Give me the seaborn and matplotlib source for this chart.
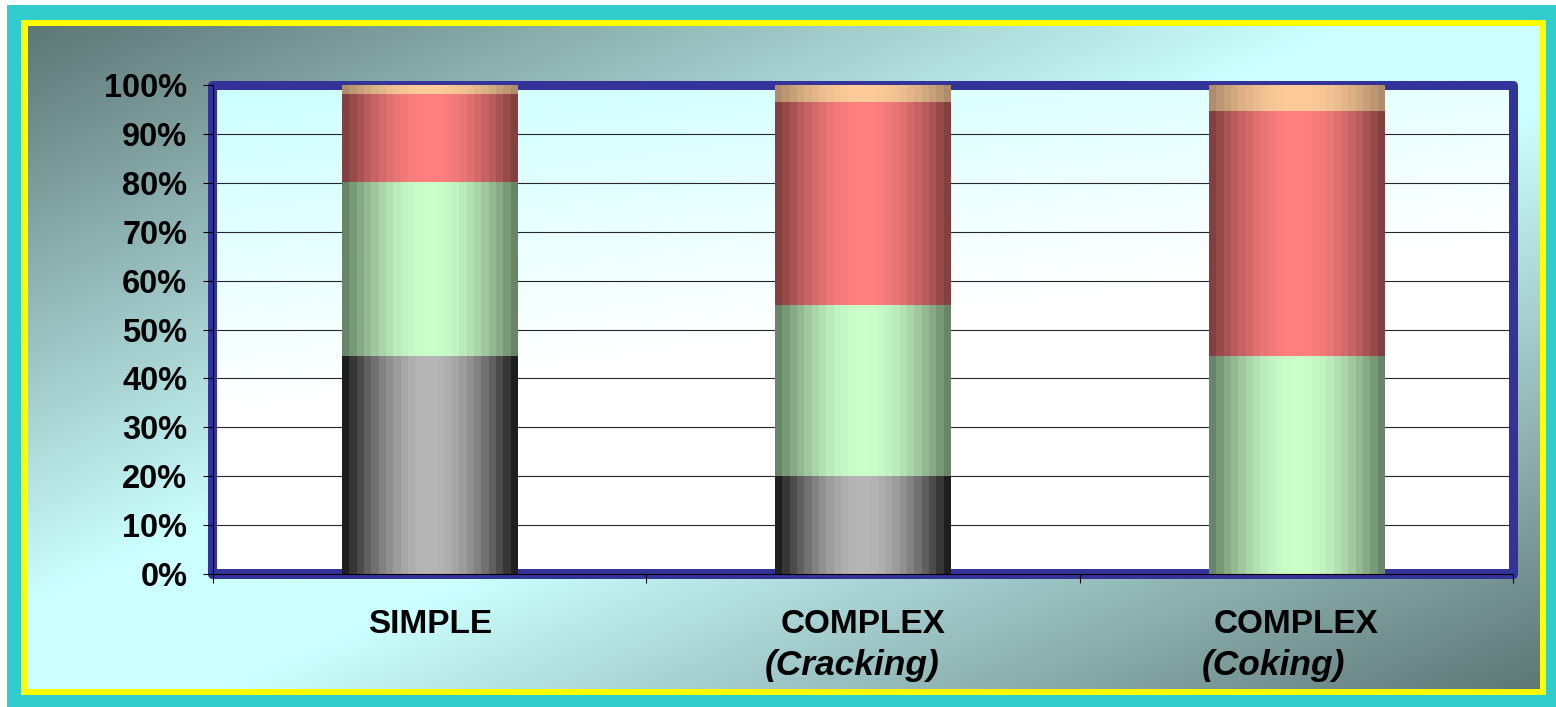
import numpy as np
import matplotlib
matplotlib.use("Agg")
import matplotlib.pyplot as plt
from matplotlib.patches import Rectangle, FancyBboxPatch
import seaborn as sns

# ---- data -------------------------------------------------------------
category_keys = ["SIMPLE", "COMPLEX (Cracking)", "COMPLEX (Coking)"]
category_labels = ["SIMPLE", "COMPLEX", "COMPLEX"]
category_subtitles = ["", "(Cracking)", "(Coking)"]

heavy_share = [44.5, 20.0, 0.0]      # grey segment
middle_share = [35.5, 35.0, 44.5]    # green segment
light_share = [18.0, 41.5, 50.0]     # red segment
top_share = [2.0, 3.5, 5.5]          # peach segment

y_ticks = [0, 10, 20, 30, 40, 50, 60, 70, 80, 90, 100]
y_tick_labels = ["0%", "10%", "20%", "30%", "40%", "50%", "60%",
                 "70%", "80%", "90%", "100%"]

# (edge colour, centre colour) for the cylinder-like shading of each segment
segment_shades = [
    ((16, 16, 16), (182, 182, 182)),
    ((95, 122, 95), (204, 255, 204)),
    ((119, 59, 59), (255, 128, 128)),
    ((168, 136, 104), (255, 204, 153)),
]

# ---- style ------------------------------------------------------------
sns.set_style("white")
plt.rcParams["font.family"] = ["Liberation Sans", "DejaVu Sans"]
plt.rcParams["text.color"] = "black"
plt.rcParams["xtick.color"] = "black"
plt.rcParams["ytick.color"] = "black"
plt.rcParams["xtick.labelcolor"] = "black"
plt.rcParams["ytick.labelcolor"] = "black"

W, H = 1556, 707
fig = plt.figure(figsize=(W / 100, H / 100), dpi=100)
fig.patch.set_facecolor("white")

# background layer in pixel coordinates
bg = fig.add_axes([0, 0, 1, 1])
bg.set_xlim(0, W)
bg.set_ylim(H, 0)
bg.axis("off")

bg.add_patch(Rectangle((7, 5), W - 7, H - 5, color="#33CCCC", lw=0))
bg.add_patch(Rectangle((21, 20), 1546 - 21, 695 - 20, color="#FFFF00", lw=0))

# diagonal two-tone panel gradient: dark corners, light band across the middle
px0, py0, px1, py1 = 28, 26, 1540, 689
gx = np.linspace(0, 1, 400)
gy = np.linspace(0, 1, 200)
U, V = np.meshgrid(gx, gy)
t = (U + V) / 2.0
mix = 1 - np.abs(2 * t - 1)
mix = np.clip(mix * 1.15, 0, 1)
dark = np.array([94, 118, 118]) / 255.0
light = np.array([204, 255, 255]) / 255.0
panel = dark[None, None, :] * (1 - mix[..., None]) + light[None, None, :] * mix[..., None]
bg.imshow(panel, extent=[px0, px1, py1, py0], aspect="auto",
          interpolation="bilinear", zorder=1)

# blue plot-area frame with its light inner wall
bg.add_patch(FancyBboxPatch((208, 81), 1310, 498,
                            boxstyle="round,pad=0,rounding_size=5",
                            color="#333399", lw=0, zorder=2))
wx = np.linspace(0, 1, 300)
wy = np.linspace(0, 1, 150)
WU, WV = np.meshgrid(wx, wy)
wt = np.clip(0.55 * WU + 1.5 * WV, 0, 1)
wall_a = np.array([204, 255, 255]) / 255.0
wall_b = np.array([255, 255, 255]) / 255.0
wall = wall_a[None, None, :] * (1 - wt[..., None]) + wall_b[None, None, :] * wt[..., None]
bg.imshow(wall, extent=[217, 1509, 569, 90], aspect="auto",
          interpolation="bilinear", zorder=3)

# ---- chart axes -------------------------------------------------------
ax = fig.add_axes([213 / W, (H - 574) / H, 1300 / W, 489 / H])
ax.patch.set_alpha(0)

layers = [heavy_share, middle_share, light_share, top_share]
cumulative = np.cumsum(np.array(layers, dtype=float), axis=0)

patch_layer = []
for li in reversed(range(len(layers))):
    before = len(ax.patches)
    sns.barplot(x=category_keys, y=cumulative[li], order=category_keys, ax=ax,
                color=np.array(segment_shades[li][1]) / 255.0, saturation=1,
                width=0.405, linewidth=0, edgecolor="none", zorder=3)
    patch_layer += [li] * (len(ax.patches) - before)


def shade_strip(edge, centre, steps=24):
    s = (np.arange(steps) + 0.5) / steps
    g = np.sin(np.pi * s) ** 0.9
    e = np.array(edge) / 255.0
    c = np.array(centre) / 255.0
    return (e[None, :] * (1 - g[:, None]) + c[None, :] * g[:, None])[None, :, :]


# replace flat bar faces by shaded strips (lower segments drawn over upper ones)
for k, (p, li) in enumerate(zip(list(ax.patches), patch_layer)):
    x, y, w, h = p.get_x(), p.get_y(), p.get_width(), p.get_height()
    p.set_visible(False)
    if h <= 0:
        continue
    strip = shade_strip(*segment_shades[li])
    ax.imshow(strip, extent=[x, x + w, y, y + h], aspect="auto",
              interpolation="nearest", zorder=4 + 0.01 * k)

ax.set_xlim(-0.5, 2.5)
ax.set_ylim(0, 100)
ax.set_aspect("auto")

# horizontal gridlines inside the wall
for v in y_ticks[1:-1]:
    ax.axhline(v, xmin=4 / 1300, xmax=1296 / 1300, color="#262626",
               lw=0.8, zorder=2)

for side in ("top", "right"):
    ax.spines[side].set_visible(False)
for side in ("left", "bottom"):
    ax.spines[side].set_color("black")
    ax.spines[side].set_linewidth(0.8)
    ax.spines[side].set_zorder(6)

ax.set_yticks(y_ticks)
ax.set_yticklabels(y_tick_labels, fontsize=23.5, fontweight="bold", color="black")
ax.tick_params(axis="y", which="major", direction="out", length=7,
               width=0.8, color="black", labelcolor="black", pad=11.5, left=True)

ax.set_xticks([0, 1, 2])
ax.set_xticklabels(category_labels, fontsize=24, fontweight="bold", color="black")
ax.set_xticks([-0.5, 0.5, 1.5, 2.5], minor=True)
ax.tick_params(axis="x", which="major", length=0, pad=25.5, labelcolor="black")
ax.tick_params(axis="x", which="minor", direction="out", length=6.5,
               width=0.8, color="black", bottom=True)
ax.set_xlabel("")
ax.set_ylabel("")

sub_offsets = [0.0, -0.025, -0.053]
for i, sub in enumerate(category_subtitles):
    if sub:
        ax.text(i + sub_offsets[i], -0.2065, sub, transform=ax.get_xaxis_transform(),
                ha="center", va="baseline", fontsize=25.5, fontweight="bold",
                fontstyle="italic", color="black")

fig.savefig("out.png", dpi=100)
